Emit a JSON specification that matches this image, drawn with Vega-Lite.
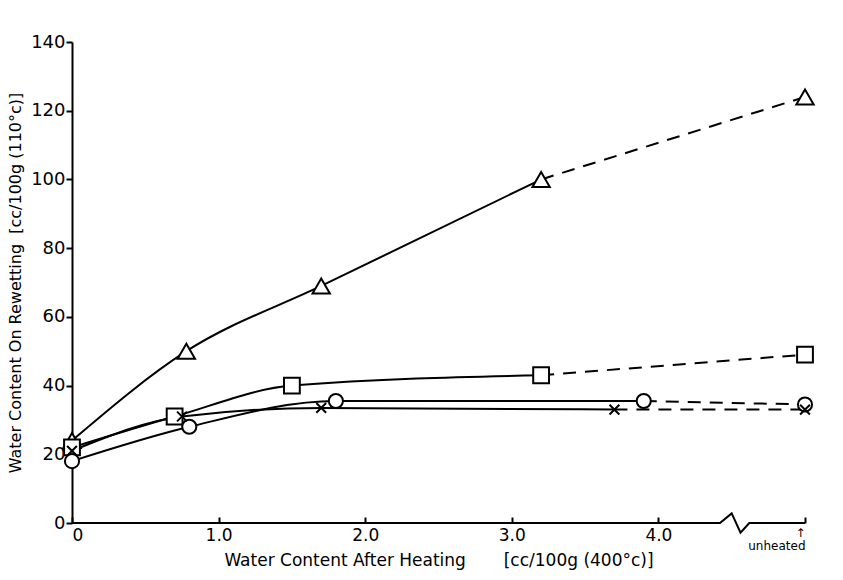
{
  "$schema": "https://vega.github.io/schema/vega-lite/v6.json",
  "width": 733,
  "height": 481,
  "autosize": {"type": "none"},
  "padding": {"left": 72, "top": 42, "right": 38, "bottom": 57},
  "background": "white",
  "config": {
    "view": {"stroke": null},
    "font": "DejaVu Sans",
    "axis": {
      "grid": false,
      "domainColor": "black",
      "domainWidth": 2,
      "tickColor": "black",
      "tickWidth": 2,
      "labelColor": "black",
      "titleColor": "black",
      "labelFont": "DejaVu Sans",
      "titleFont": "DejaVu Sans",
      "titleFontWeight": "normal"
    }
  },
  "datasets": {
    "pts": [
      {"s": "tri", "x": 0, "y": 24, "p": "heated", "last": false},
      {"s": "tri", "x": 0.78, "y": 50, "p": "heated", "last": false},
      {"s": "tri", "x": 1.7, "y": 69, "p": "heated", "last": false},
      {"s": "tri", "x": 3.2, "y": 100, "p": "heated", "last": true},
      {"s": "tri", "x": 5, "y": 124, "p": "unheated", "last": false},
      {"s": "sq", "x": 0, "y": 22, "p": "heated", "last": false},
      {"s": "sq", "x": 0.7, "y": 31, "p": "heated", "last": false},
      {"s": "sq", "x": 1.5, "y": 40, "p": "heated", "last": false},
      {"s": "sq", "x": 3.2, "y": 43, "p": "heated", "last": true},
      {"s": "sq", "x": 5, "y": 49, "p": "unheated", "last": false},
      {"s": "circ", "x": 0, "y": 18, "p": "heated", "last": false},
      {"s": "circ", "x": 0.8, "y": 28, "p": "heated", "last": false},
      {"s": "circ", "x": 1.8, "y": 35.5, "p": "heated", "last": false},
      {"s": "circ", "x": 3.9, "y": 35.5, "p": "heated", "last": true},
      {"s": "circ", "x": 5, "y": 34.5, "p": "unheated", "last": false},
      {"s": "cross", "x": 0, "y": 21, "p": "heated", "last": false},
      {"s": "cross", "x": 0.75, "y": 31, "p": "heated", "last": false},
      {"s": "cross", "x": 1.7, "y": 33.5, "p": "heated", "last": false},
      {"s": "cross", "x": 3.7, "y": 33, "p": "heated", "last": true},
      {"s": "cross", "x": 5, "y": 33, "p": "unheated", "last": false}
    ],
    "axisline": [
      {"bx": 0, "by": 0},
      {"bx": 4.42, "by": 0},
      {"bx": 4.5, "by": 2.8},
      {"bx": 4.56, "by": -2.8},
      {"bx": 4.62, "by": 0},
      {"bx": 5, "by": 0}
    ]
  },
  "layer": [
    {
      "data": {"name": "pts"},
      "transform": [{"filter": "datum.p == 'heated'"}],
      "mark": {"type": "line", "interpolate": "monotone", "color": "black", "strokeWidth": 2},
      "encoding": {
        "x": {
          "field": "x", "type": "quantitative",
          "scale": {"domain": [0, 5], "nice": false, "zero": false},
          "axis": {
            "values": [0, 1, 2, 3, 4, 5],
            "domain": false,
            "offset": -6,
            "tickSize": 6,
            "labelExpr": "datum.value == 5 ? ['\u2191\uFE0E', 'unheated'] : (datum.value == 0 ? '0' : format(datum.value, '.1f'))",
            "labelFontSize": {"condition": {"test": "datum.value == 5", "value": 12}, "value": 17},
            "labelLineHeight": 13,
            "labelPadding": 4,
            "title": "Water Content After Heating\u00a0\u00a0\u00a0\u00a0\u00a0\u00a0\u00a0[cc/100g (400°c)]",
            "titleFontSize": 17,
            "titlePadding": 1
          }
        },
        "y": {
          "field": "y", "type": "quantitative",
          "scale": {"domain": [0, 140], "nice": false},
          "axis": {
            "values": [0, 20, 40, 60, 80, 100, 120, 140],
            "labelFontSize": 18,
            "tickSize": 6,
            "labelPadding": 1,
            "title": "Water Content On Rewetting\u00a0\u00a0[cc/100g (110°c)]",
            "titleFontSize": 16,
            "titlePadding": 7
          }
        },
        "detail": {"field": "s"}
      }
    },
    {
      "data": {"name": "pts"},
      "transform": [{"filter": "datum.p == 'unheated' || datum.last"}],
      "mark": {"type": "line", "color": "black", "strokeWidth": 2, "strokeDash": [13, 9]},
      "encoding": {
        "x": {"field": "x", "type": "quantitative"},
        "y": {"field": "y", "type": "quantitative"},
        "detail": {"field": "s"}
      }
    },
    {
      "data": {"name": "axisline"},
      "mark": {"type": "line", "color": "black", "strokeWidth": 2, "clip": false},
      "encoding": {
        "x": {"field": "bx", "type": "quantitative"},
        "y": {"field": "by", "type": "quantitative"}
      }
    },
    {
      "data": {"name": "pts"},
      "mark": {"type": "point", "filled": false, "fill": "white", "fillOpacity": 1, "stroke": "black", "strokeWidth": 2, "opacity": 1},
      "encoding": {
        "x": {"field": "x", "type": "quantitative"},
        "y": {"field": "y", "type": "quantitative"},
        "shape": {
          "field": "s", "type": "nominal",
          "scale": {"domain": ["tri", "sq", "circ", "cross"], "range": ["triangle-up", "square", "circle", "M-0.8,-0.8L0.8,0.8M-0.8,0.8L0.8,-0.8"]},
          "legend": null
        },
        "size": {
          "field": "s", "type": "nominal",
          "scale": {"domain": ["tri", "sq", "circ", "cross"], "range": [300, 150, 170, 110]},
          "legend": null
        }
      }
    }
  ]
}
